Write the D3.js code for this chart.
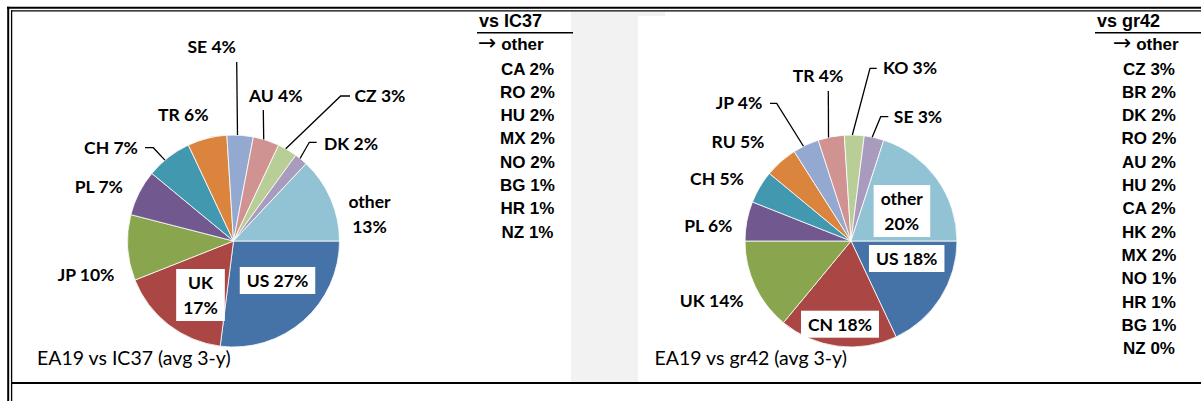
<!DOCTYPE html>
<html>
<head>
<meta charset="utf-8">
<script src="https://cdn.jsdelivr.net/npm/d3@7"></script>
<style>
body { margin: 0; background: #fff; }
svg { display: block; }
.lbl { font-family: Lato, sans-serif; font-weight: bold; font-size: 17.5px; fill: #000; }
.cap { font-family: Lato, sans-serif; font-size: 19.5px; fill: #000; }
.leg { font-family: "Liberation Sans", Arial, sans-serif; font-weight: bold; font-size: 17px; fill: #000; }
.arrow { font-family: "DejaVu Sans", sans-serif; font-weight: normal; font-size: 22px; }
</style>
</head>
<body>
<script>
// left pie: EA19 vs IC37
var names1 = ["US", "UK", "JP", "PL", "CH", "TR", "SE", "AU", "CZ", "DK", "other"];
var values1 = [27, 17, 10, 7, 7, 6, 4, 4, 3, 2, 13];
var otherNames1 = ["CA", "RO", "HU", "MX", "NO", "BG", "HR", "NZ"];
var otherValues1 = [2, 2, 2, 2, 2, 1, 1, 1];

// right pie: EA19 vs gr42
var names2 = ["US", "CN", "UK", "PL", "CH", "RU", "JP", "TR", "KO", "SE", "other"];
var values2 = [18, 18, 14, 6, 5, 5, 4, 4, 3, 3, 20];
var otherNames2 = ["CZ", "BR", "DK", "RO", "AU", "HU", "CA", "HK", "MX", "NO", "HR", "BG", "NZ"];
var otherValues2 = [3, 2, 2, 2, 2, 2, 2, 2, 2, 1, 1, 1, 0];

var colors = ["#4572A7", "#AA4643", "#89A54E", "#71588F", "#4198AF", "#DB843D",
              "#93A9CF", "#D19392", "#B9CD96", "#A99BBD", "#92C3D4"];

var width = 1201, height = 401, radius = 106;

// label placement, offsets from pie centre (dx = text centre, dy = baseline)
var layout1 = {
  US:    {dx: 44, dy: 46, box: true},
  UK:    {dx: -33, dy: 48, box: true, split: true},
  JP:    {dx: -147.5, dy: 40},
  PL:    {dx: -134.7, dy: -48},
  CH:    {dx: -122.5, dy: -87, leader: [[-88.5, -93.3], [-80.2, -93.3]]},
  TR:    {dx: -50.2, dy: -120.3},
  SE:    {dx: -21.8, dy: -188, leader: [[3.2, -179]]},
  AU:    {dx: 42.3, dy: -139.3, leader: [[29.8, -131]]},
  CZ:    {dx: 146.5, dy: -139.3, leader: [[116.5, -145], [107.2, -145]]},
  DK:    {dx: 117.5, dy: -91, leader: [[83.2, -98.7], [75.8, -98.7]]},
  other: {dx: 136, dy: -33, split: true}
};
var layout2 = {
  US:    {dx: 55.7, dy: 24, box: true},
  CN:    {dx: -11, dy: 89.7, box: true},
  UK:    {dx: -139.3, dy: 66.3},
  PL:    {dx: -142.7, dy: -9.3},
  CH:    {dx: -134, dy: -56},
  RU:    {dx: -113, dy: -92.7},
  JP:    {dx: -112, dy: -132, leader: [[-81, -137.7], [-74.3, -137.7]]},
  TR:    {dx: -33, dy: -159, leader: [[-22.7, -150]]},
  KO:    {dx: 59, dy: -167, leader: [[25.7, -172.7], [19, -172.7]]},
  SE:    {dx: 67, dy: -118.3, leader: [[37.3, -124.3], [29.7, -124.3]]},
  other: {dx: 50.7, dy: -36, box: true, split: true}
};

var svg = d3.select("body").append("svg")
  .attr("width", width).attr("height", height);

// panel backgrounds
svg.append("rect").attr("x", 571).attr("y", 12).attr("width", 67).attr("height", 370).attr("fill", "#f2f2f2");
svg.append("rect").attr("x", 638).attr("y", 12).attr("width", 27).attr("height", 4).attr("fill", "#f2f2f2");

// double frame
svg.append("line").attr("x1", 7).attr("x2", width).attr("y1", 7.7).attr("y2", 7.7).attr("stroke", "#000").attr("stroke-width", 2);
svg.append("line").attr("x1", 8.2).attr("x2", 8.2).attr("y1", 6.7).attr("y2", height).attr("stroke", "#000").attr("stroke-width", 2);
svg.append("line").attr("x1", 11).attr("x2", width).attr("y1", 10.8).attr("y2", 10.8).attr("stroke", "#000").attr("stroke-width", 1.2);
svg.append("line").attr("x1", 11.6).attr("x2", 11.6).attr("y1", 10.2).attr("y2", height).attr("stroke", "#000").attr("stroke-width", 1.3);
svg.append("line").attr("x1", 11).attr("x2", width).attr("y1", 383).attr("y2", 383).attr("stroke", "#000").attr("stroke-width", 2);

var pie = d3.pie().sort(null).value(function(d){ return d; })
  .startAngle(Math.PI / 2).endAngle(Math.PI / 2 + 2 * Math.PI);
var arc = d3.arc().innerRadius(0).outerRadius(radius);

function drawPie(cx, cy, names, values, layout, caption) {
  var g = svg.append("g").attr("transform", "translate(" + cx + "," + cy + ")");
  var arcs = pie(values);

  g.selectAll("path.slice")
    .data(arcs)
    .enter().append("path")
    .attr("class", "slice")
    .attr("d", arc)
    .attr("fill", function(d, i){ return colors[i]; })
    .attr("stroke", "#fff")
    .attr("stroke-width", 0.8);

  arcs.forEach(function(d, i) {
    var name = names[i];
    var p = layout[name];
    var pct = d.value + "%";

    if (p.leader) {
      var a = d.startAngle + 0.4 * (d.endAngle - d.startAngle);
      var pts = p.leader.concat([[radius * Math.sin(a), -radius * Math.cos(a)]]);
      g.append("path")
        .attr("d", d3.line()(pts))
        .attr("fill", "none")
        .attr("stroke", "#000")
        .attr("stroke-width", 1.3);
    }

    var lg = g.append("g");
    var t = lg.append("text")
      .attr("class", "lbl")
      .attr("text-anchor", "middle")
      .attr("x", p.dx).attr("y", p.dy);
    if (p.split) {
      t.append("tspan").attr("x", p.dx).text(name);
      t.append("tspan").attr("x", p.dx).attr("dy", 25).text(pct);
    } else {
      t.text(name + " " + pct);
    }
    if (p.box) {
      var bb = t.node().getBBox();
      lg.insert("rect", "text")
        .attr("x", bb.x - 7).attr("y", bb.y - 3)
        .attr("width", bb.width + 14).attr("height", bb.height + 6)
        .attr("fill", "#fff");
    }
  });

  svg.append("text")
    .attr("class", "cap")
    .attr("x", cx - 196.5).attr("y", 365)
    .text(caption);
}

drawPie(233.5, 241, names1, values1, layout1, "EA19 vs IC37 (avg 3-y)");
drawPie(851, 241, names2, values2, layout2, "EA19 vs gr42 (avg 3-y)");

function drawList(x0, lineX2, itemX, headX, heading, names, values) {
  var lg = svg.append("g");
  lg.append("text").attr("class", "leg").attr("x", x0).attr("y", 26.7).style("font-size", "18px").text(heading);
  lg.append("line").attr("x1", x0 - 2).attr("x2", lineX2).attr("y1", 32.8).attr("y2", 32.8)
    .attr("stroke", "#000").attr("stroke-width", 1.6);
  var h = lg.append("text").attr("class", "leg").attr("x", headX).attr("y", 50);
  h.append("tspan").attr("class", "arrow").text("\u2192");
  h.append("tspan").text(" other");
  lg.selectAll("text.item")
    .data(names)
    .enter().append("text")
    .attr("class", "leg item")
    .attr("text-anchor", "middle")
    .attr("x", itemX)
    .attr("y", function(d, i){ return 74.5 + i * 23.33; })
    .text(function(d, i){ return d + " " + values[i] + "%"; });
}

drawList(479, 573, 527.5, 478, "vs IC37", otherNames1, otherValues1);
drawList(1097, width, 1149, 1113, "vs gr42", otherNames2, otherValues2);
</script>
</body>
</html>
